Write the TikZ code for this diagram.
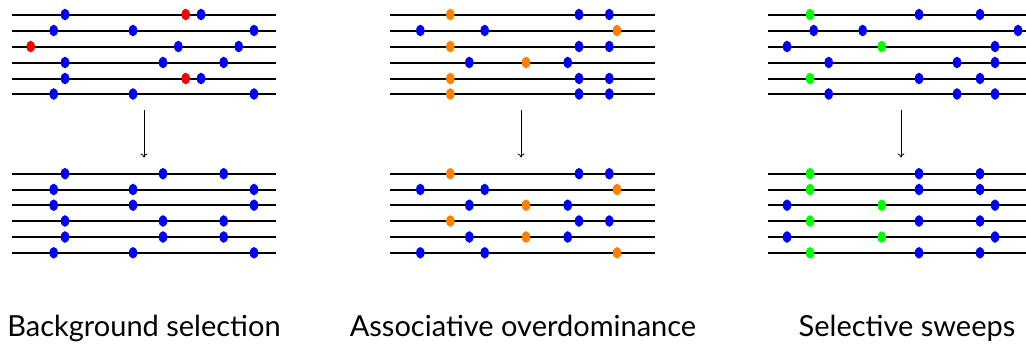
\documentclass[tikz,border=0pt]{standalone}
\usepackage{fontspec}
\setmainfont{Lato}
\usetikzlibrary{arrows.meta}
\definecolor{B}{RGB}{0,0,255}
\definecolor{R}{RGB}{255,0,0}
\definecolor{O}{RGB}{255,128,0}
\definecolor{G}{RGB}{0,255,0}
\tikzset{
  chrom/.style={line width=2pt, black},
  lbl/.style={font=\fontsize{29}{34}\selectfont, anchor=base, inner sep=0pt},
  arr/.style={-{To[length=4pt,width=7pt]}, line width=0.8pt}
}
\newcommand{\mychroms}[2]{% x0 x1
  \foreach \yy in {14.5,30.5,46.5,62.5,78.5,94,173.7,189.5,205.2,221,237,252.8}
    \draw[chrom] (#1,\yy) -- (#2,\yy);}
\newcommand{\mydots}[1]{%
  \foreach \xx/\yy/\cc in {#1}
    \fill[\cc] (\xx,\yy) ellipse [x radius=4.2pt, y radius=5.8pt];}
\begin{document}
\begin{tikzpicture}[x=1pt,y=-1pt]
\useasboundingbox (0,0) rectangle (1026,343);
% panel 1
\mychroms{12}{276}
\mydots{65/14.5/B,185.7/14.5/R,201/14.5/B,
      53.7/30.5/B,133/30.5/B,254/30.5/B,
      30.7/46.5/R,178.3/46.5/B,238.7/46.5/B,
      65/62.5/B,163/62.5/B,223.7/62.5/B,
      65/78.5/B,185.7/78.5/R,201/78.5/B,
      53.7/94/B,133/94/B,254/94/B,
      65/173.7/B,163/173.7/B,223.7/173.7/B,
      53.7/189.5/B,133/189.5/B,254/189.5/B,
      53.7/205.2/B,133/205.2/B,254/205.2/B,
      65/221/B,163/221/B,223.7/221/B,
      65/237/B,163/237/B,223.7/237/B,
      53.7/252.8/B,133/252.8/B,254/252.8/B}
% panel 2
\mychroms{390}{655}
\mydots{450.3/14.5/O,579/14.5/B,609.3/14.5/B,
      420.3/30.5/B,484.7/30.5/B,617/30.5/O,
      450.3/46.5/O,579/46.5/B,609.3/46.5/B,
      469.3/62.5/B,526/62.5/O,567.7/62.5/B,
      450.3/78.5/O,579/78.5/B,609.3/78.5/B,
      450.3/94/O,579/94/B,609.3/94/B,
      450.3/173.7/O,579/173.7/B,609.3/173.7/B,
      420.3/189.5/B,484.7/189.5/B,617/189.5/O,
      469.3/205.2/B,526/205.2/O,567.7/205.2/B,
      450.3/221/O,579/221/B,609.3/221/B,
      469.3/237/B,526/237/O,567.7/237/B,
      420.3/252.8/B,484.7/252.8/B,617/252.8/O}
% panel 3
\mychroms{768}{1026}
\mydots{810/14.5/G,919/14.5/B,980/14.5/B,
      813.7/30.5/B,862.7/30.5/B,1018/30.5/B,
      787/46.5/B,881.7/46.5/G,995/46.5/B,
      828.7/62.5/B,957/62.5/B,995/62.5/B,
      810/78.5/G,919/78.5/B,980/78.5/B,
      828.7/94/B,957/94/B,995/94/B,
      810/173.7/G,919/173.7/B,980/173.7/B,
      810/189.5/G,919/189.5/B,980/189.5/B,
      787/205.2/B,881.7/205.2/G,995/205.2/B,
      810/221/G,919/221/B,980/221/B,
      787/237/B,881.7/237/G,995/237/B,
      810/252.8/G,919/252.8/B,980/252.8/B}
% arrows
\coordinate (a1s) at (144,110); \coordinate (a1e) at (144,157.5);
\coordinate (a2s) at (521,110); \coordinate (a2e) at (521,157.5);
\coordinate (a3s) at (901,110); \coordinate (a3e) at (901,157.5);
\draw[arr] (a1s) -- (a1e);
\draw[arr] (a2s) -- (a2e);
\draw[arr] (a3s) -- (a3e);
% labels
\node[lbl] (l1) at (144,336) {Background selection};
\node[lbl] (l2) at (523,336) {Associative overdominance};
\node[lbl] (l3) at (907,336) {Selective sweeps};
\end{tikzpicture}
\end{document}
